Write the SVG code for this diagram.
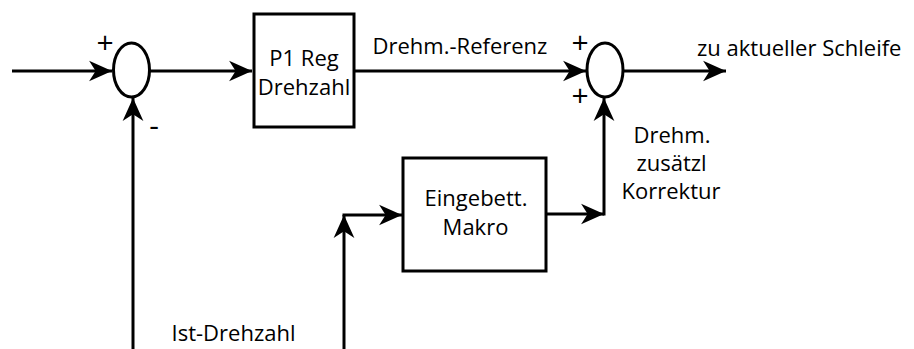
<svg xmlns="http://www.w3.org/2000/svg" width="914" height="349" viewBox="0 0 914 349">
  <style>
    .ln { fill: none; stroke: #000; stroke-width: 3; }
    .box { fill: #fff; stroke: #000; stroke-width: 3; }
    .sum { fill: #fff; stroke: #000; stroke-width: 3; }
    .t { font-family: "Open Sans", "DejaVu Sans", sans-serif; font-size: 22px; fill: #000; }
    .sign { font-family: "Open Sans", "DejaVu Sans", sans-serif; font-size: 30px; fill: #000; text-anchor: middle; }
    .c { text-anchor: middle; }
  </style>
  <defs>
    <marker id="arr" markerUnits="userSpaceOnUse" markerWidth="24" markerHeight="22" viewBox="-21 -10 22 20" refX="0" refY="0" orient="auto">
      <path d="M0,0 L-21,-9.5 L-15,0 L-21,9.5 Z" fill="#000"/>
    </marker>
  </defs>

  <!-- signal lines -->
  <g id="connectors">
    <path class="ln" d="M12,71 H112" marker-end="url(#arr)"/>
    <path class="ln" d="M150,71 H252" marker-end="url(#arr)"/>
    <path class="ln" d="M133,349 V98" marker-end="url(#arr)"/>
    <path class="ln" d="M354,71 H586" marker-end="url(#arr)"/>
    <path class="ln" d="M623,71 H726" marker-end="url(#arr)"/>
    <path class="ln" d="M546,214 H604" marker-end="url(#arr)"/>
    <path class="ln" d="M604,215.5 V98" marker-end="url(#arr)"/>
    <path class="ln" d="M344,349 V215" marker-end="url(#arr)"/>
    <path class="ln" d="M342.5,215 H402" marker-end="url(#arr)"/>
  </g>

  <!-- first summing junction -->
  <g id="sum1">
    <ellipse class="sum" cx="131.5" cy="70" rx="18" ry="27"/>
    <text class="sign" x="105" y="53">+</text>
    <text class="sign" x="154" y="136">-</text>
  </g>

  <!-- speed controller -->
  <g id="p1reg">
    <rect class="box" x="254" y="14" width="100" height="113"/>
    <text class="t c" x="304" y="66">P1 Reg</text>
    <text class="t c" x="304" y="95">Drehzahl</text>
  </g>

  <!-- second summing junction -->
  <g id="sum2">
    <ellipse class="sum" cx="605" cy="70" rx="18" ry="27"/>
    <text class="sign" x="580" y="53">+</text>
    <text class="sign" x="580" y="106">+</text>
  </g>

  <!-- embedded macro -->
  <g id="makro">
    <rect class="box" x="403" y="158" width="143" height="113"/>
    <text class="t c" x="476" y="206">Eingebett.</text>
    <text class="t c" x="475.5" y="235">Makro</text>
  </g>

  <!-- signal labels -->
  <g id="labels">
    <text class="t c" x="460" y="54">Drehm.-Referenz</text>
    <text class="t" x="697" y="56">zu aktueller Schleife</text>
    <text class="t c" x="672" y="143">Drehm.</text>
    <text class="t c" x="671.5" y="171">zusätzl</text>
    <text class="t c" x="671" y="199">Korrektur</text>
    <text class="t c" x="233.5" y="341">Ist-Drehzahl</text>
  </g>
</svg>
